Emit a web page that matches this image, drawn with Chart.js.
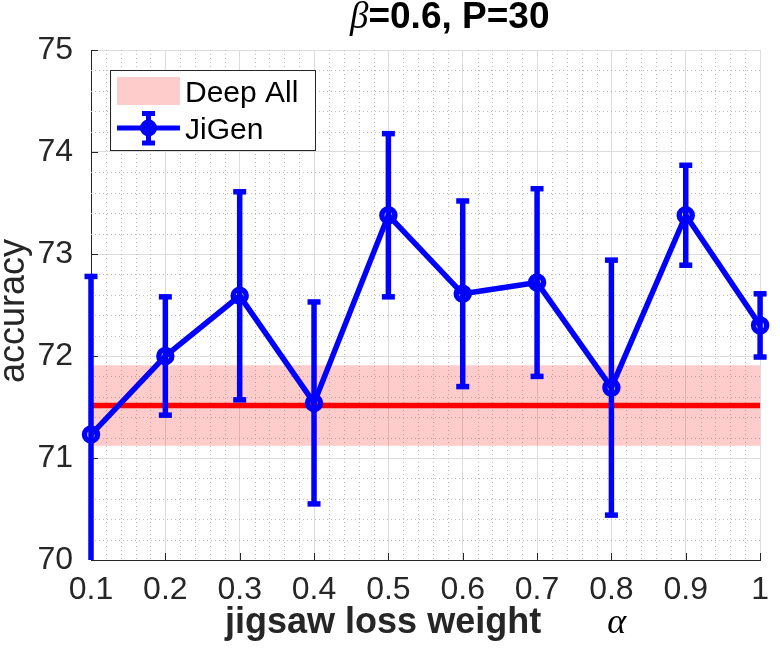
<!DOCTYPE html>
<html>
<head>
<meta charset="utf-8">
<script src="https://cdn.jsdelivr.net/npm/chart.js@4.4.1/dist/chart.umd.min.js"></script>
<style>
  html, body { margin: 0; padding: 0; background: #fff; }
  #wrap { width: 780px; height: 657px; }
</style>
</head>
<body>
<div id="wrap"><canvas id="chart" width="780" height="657"></canvas></div>
<script>
// jigsaw loss weight alpha
const alphas = [0.1, 0.2, 0.3, 0.4, 0.5, 0.6, 0.7, 0.8, 0.9, 1.0];
// JiGen accuracy and error (half length of bar)
const jigenAcc = [71.23, 72.0, 72.59, 71.54, 73.38, 72.61, 72.72, 71.69, 73.38, 72.30];
const jigenErr = [1.55, 0.58, 1.02, 0.99, 0.80, 0.91, 0.92, 1.25, 0.49, 0.31];
// Deep All baseline
const deepAllMean = 71.515;
const deepAllStd = 0.395;

const xTicks = [0.1, 0.2, 0.3, 0.4, 0.5, 0.6, 0.7, 0.8, 0.9, 1.0];
const xTickLabels = ["0.1", "0.2", "0.3", "0.4", "0.5", "0.6", "0.7", "0.8", "0.9", "1"];
const yTicks = [70, 71, 72, 73, 74, 75];
const yTickLabels = ["70", "71", "72", "73", "74", "75"];
const xMinorStep = 0.02;
const yMinorStep = 0.2;

const SANS = '"Liberation Sans", Arial, Helvetica, sans-serif';
const SERIF = '"Liberation Serif", "DejaVu Serif", serif';
const BLUE = "#0000ff";
const AXIS = "#262626";

const xEnds = [alphas[0], alphas[alphas.length - 1]];
const bandUpper = xEnds.map(x => ({ x: x, y: deepAllMean + deepAllStd }));
const bandLower = xEnds.map(x => ({ x: x, y: deepAllMean - deepAllStd }));
const deepLine = xEnds.map(x => ({ x: x, y: deepAllMean }));
const jigenPts = alphas.map((a, i) => ({ x: a, y: jigenAcc[i] }));

// dotted minor grid + inward tick marks
const minorGrid = {
  id: "minorGrid",
  beforeDatasetsDraw(chart) {
    const { ctx, chartArea: ca, scales: { x, y } } = chart;
    ctx.save();
    ctx.strokeStyle = "#bdbdbd";
    ctx.lineWidth = 1;
    ctx.setLineDash([1, 3]);
    for (let v = x.min + xMinorStep; v < x.max - 1e-9; v += xMinorStep) {
      if (Math.abs(v * 10 - Math.round(v * 10)) < 1e-6) continue;
      const px = Math.round(x.getPixelForValue(v)) + 0.5;
      ctx.beginPath(); ctx.moveTo(px, ca.top); ctx.lineTo(px, ca.bottom); ctx.stroke();
    }
    for (let v = y.min + yMinorStep; v < y.max - 1e-9; v += yMinorStep) {
      if (Math.abs(v - Math.round(v)) < 1e-6) continue;
      const py = Math.round(y.getPixelForValue(v)) + 0.5;
      ctx.beginPath(); ctx.moveTo(ca.left, py); ctx.lineTo(ca.right, py); ctx.stroke();
    }
    ctx.setLineDash([]);
    ctx.strokeStyle = AXIS;
    xTicks.forEach(v => {
      const px = Math.round(x.getPixelForValue(v)) + 0.5;
      ctx.beginPath(); ctx.moveTo(px, ca.bottom); ctx.lineTo(px, ca.bottom - 7); ctx.stroke();
    });
    yTicks.forEach(v => {
      const py = Math.round(y.getPixelForValue(v)) + 0.5;
      ctx.beginPath(); ctx.moveTo(ca.left, py); ctx.lineTo(ca.left + 7, py); ctx.stroke();
    });
    ctx.restore();
  }
};

function drawErrBar(ctx, px, yTop, yBot, capTop, capBot) {
  ctx.beginPath(); ctx.moveTo(px, yTop); ctx.lineTo(px, yBot); ctx.stroke();
  if (capTop) { ctx.beginPath(); ctx.moveTo(px - 6.5, yTop); ctx.lineTo(px + 6.5, yTop); ctx.stroke(); }
  if (capBot) { ctx.beginPath(); ctx.moveTo(px - 6.5, yBot); ctx.lineTo(px + 6.5, yBot); ctx.stroke(); }
}

const errorBars = {
  id: "errorBars",
  beforeDatasetDraw(chart, args) {
    if (args.index !== 3) return;
    const { ctx, chartArea: ca, scales: { x, y } } = chart;
    ctx.save();
    ctx.strokeStyle = BLUE;
    ctx.lineWidth = 5.5;
    ctx.lineCap = "butt";
    alphas.forEach((a, i) => {
      const px = x.getPixelForValue(a);
      let t = y.getPixelForValue(jigenAcc[i] + jigenErr[i]);
      let b = y.getPixelForValue(jigenAcc[i] - jigenErr[i]);
      const capT = t >= ca.top, capB = b <= ca.bottom;
      t = Math.max(t, ca.top); b = Math.min(b, ca.bottom);
      drawErrBar(ctx, px, t, b, capT, capB);
    });
    ctx.restore();
  }
};

// title, axis labels and legend box
const texts = {
  id: "texts",
  afterDraw(chart) {
    const { ctx, chartArea: ca } = chart;
    const cx = (ca.left + ca.right) / 2;
    ctx.save();
    ctx.fillStyle = "#000";
    ctx.textBaseline = "alphabetic";

    // title
    ctx.font = "italic 37px " + SERIF;
    const wb = ctx.measureText("\u03b2").width;
    ctx.font = "bold 37px " + SANS;
    const rest = "=0.6, P=30";
    const wr = ctx.measureText(rest).width;
    let sx = 350;
    ctx.font = "italic 37px " + SERIF;
    ctx.textAlign = "left";
    ctx.fillText("\u03b2", sx, 28);
    ctx.font = "bold 37px " + SANS;
    ctx.fillText(rest, sx + wb, 28);

    // x label
    ctx.fillStyle = AXIS;
    ctx.font = "bold 36px " + SANS;
    const xl = "jigsaw loss weight";
    const wx = ctx.measureText(xl).width;
    ctx.font = "italic 36px " + SERIF;
    const wa = ctx.measureText("\u03b1").width;
    const gap = 66;
    sx = cx - (wx + gap + wa) / 2;
    ctx.font = "bold 36px " + SANS;
    ctx.fillText(xl, sx, 633);
    ctx.fillStyle = "#000";
    ctx.font = "italic 36px " + SERIF;
    ctx.fillText("\u03b1", sx + wx + gap, 633);

    // y label
    ctx.fillStyle = AXIS;
    ctx.font = "36px " + SANS;
    ctx.translate(24, 311);
    ctx.rotate(-Math.PI / 2);
    ctx.textAlign = "center";
    ctx.fillText("accuracy", 0, 0);
    ctx.restore();

    // legend
    ctx.save();
    const lx = 110.5, ly = 70.5, lw = 205, lh = 80;
    ctx.fillStyle = "#fff";
    ctx.fillRect(lx, ly, lw, lh);
    ctx.strokeStyle = AXIS;
    ctx.lineWidth = 1;
    ctx.strokeRect(lx, ly, lw, lh);
    ctx.fillStyle = "rgba(255,0,0,0.2)";
    ctx.fillRect(117, 77, 63, 28);
    ctx.strokeStyle = BLUE;
    ctx.lineWidth = 5;
    ctx.beginPath(); ctx.moveTo(117, 128); ctx.lineTo(180, 128); ctx.stroke();
    drawErrBar(ctx, 148.5, 113.5, 143, true, true);
    ctx.lineWidth = 5;
    ctx.beginPath(); ctx.arc(148.5, 128, 6, 0, Math.PI * 2); ctx.stroke();
    ctx.fillStyle = "#000";
    ctx.font = "30px " + SANS;
    ctx.textAlign = "left";
    ctx.fillText("Deep All", 185, 102);
    ctx.fillText("JiGen", 185, 139);
    ctx.restore();
  }
};

const tickFont = { family: SANS, size: 32 };

new Chart(document.getElementById("chart"), {
  type: "line",
  data: {
    datasets: [
      { label: "band upper", data: bandUpper, borderWidth: 0, pointRadius: 0, fill: false, order: 3 },
      { label: "band lower", data: bandLower, borderWidth: 0, pointRadius: 0,
        fill: "-1", backgroundColor: "rgba(255,0,0,0.2)", order: 2 },
      { label: "Deep All", data: deepLine, borderColor: "#ff0000", borderWidth: 5.5,
        pointRadius: 0, fill: false, order: 1 },
      { label: "JiGen", data: jigenPts, borderColor: BLUE, borderWidth: 5.5,
        pointRadius: 6.5, pointBorderWidth: 5.5, pointBorderColor: BLUE,
        pointBackgroundColor: "rgba(0,0,0,0)", fill: false, tension: 0, clip: false, order: 0 }
    ]
  },
  options: {
    responsive: false,
    animation: false,
    events: [],
    layout: { padding: { top: 50, right: 12, left: 0, bottom: 0 } },
    plugins: { legend: { display: false }, tooltip: { enabled: false } },
    scales: {
      x: {
        type: "linear", min: 0.1, max: 1,
        afterBuildTicks: s => { s.ticks = xTicks.map(v => ({ value: v })); },
        afterFit: s => { s.height = 97; },
        ticks: { font: tickFont, color: AXIS, padding: 11, maxRotation: 0, autoSkip: false,
                 callback: (v, i) => xTickLabels[i] },
        grid: { color: "#dcdcdc", lineWidth: 1, drawTicks: false },
        border: { color: AXIS, width: 1 }
      },
      y: {
        type: "linear", min: 70, max: 75,
        afterBuildTicks: s => { s.ticks = yTicks.map(v => ({ value: v })); },
        afterFit: s => { s.width = 91; },
        ticks: { font: tickFont, color: AXIS, padding: 18, callback: (v, i) => yTickLabels[i] },
        grid: { color: "#dcdcdc", lineWidth: 1, drawTicks: false },
        border: { color: AXIS, width: 1 }
      }
    }
  },
  plugins: [minorGrid, errorBars, texts]
});
</script>
</body>
</html>
